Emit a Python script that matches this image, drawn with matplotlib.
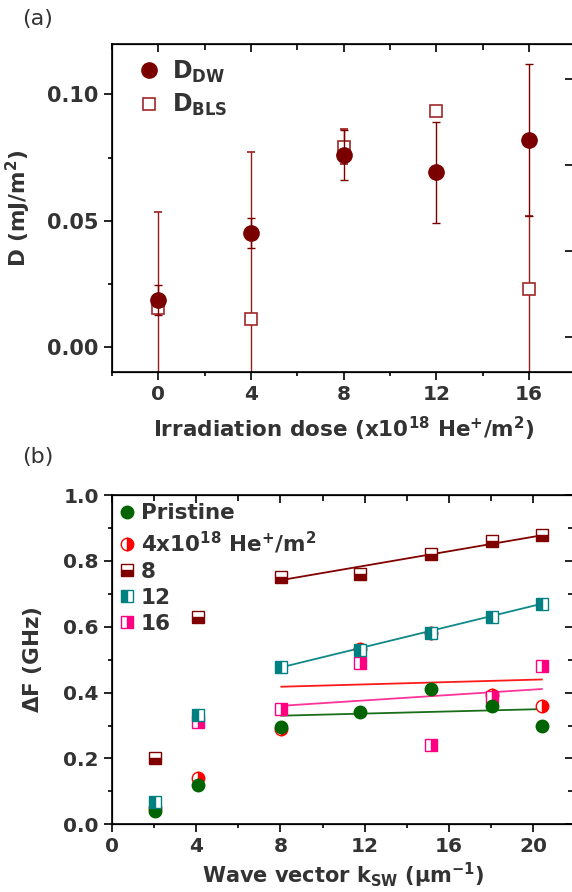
""" Two-panel figure: DMI vs irradiation dose, and frequency shift vs wave vector. """

import matplotlib.pyplot as plt
from matplotlib.lines import Line2D
from matplotlib.ticker import MultipleLocator, FormatStrFormatter

# ---- data, panel (a) ----
dose = [0, 4, 8, 12, 16]
d_dw = [0.0184, 0.0451, 0.0759, 0.0692, 0.0819]
d_dw_err = [0.006, 0.006, 0.010, 0.020, 0.030]
d_bls = [0.0155, 0.0111, 0.0793, 0.0933, 0.0229]
d_bls_err_low = [0.040, 0.030, 0.007, 0.001, 0.040]
d_bls_err_high = [0.038, 0.066, 0.007, 0.001, 0.029]

# ---- data, panel (b) ----
k_sw = [2.05, 4.07, 8.04, 11.78, 15.15, 18.04, 20.41]
df_pristine = [0.040, 0.120, 0.295, 0.340, 0.410, 0.360, 0.300]
df_4 = [0.049, 0.140, 0.289, 0.534, 0.580, 0.393, 0.360]
df_8 = [0.200, 0.630, 0.750, 0.760, 0.821, 0.861, 0.880]
df_12 = [0.069, 0.332, 0.479, 0.529, 0.580, 0.630, 0.670]
k_16 = [4.07, 8.04, 11.78, 15.15, 18.04, 20.41]
df_16 = [0.310, 0.350, 0.491, 0.240, 0.386, 0.481]

# linear fits drawn in the figure (end points)
fit_k = [8.04, 20.41]
fit_pristine = [0.330, 0.350]
fit_4 = [0.418, 0.440]
fit_8 = [0.742, 0.878]
fit_12 = [0.477, 0.670]
fit_16 = [0.360, 0.411]

plt.rcParams['font.family'] = ['DejaVu Sans']
plt.rcParams['mathtext.default'] = 'bf'
plt.rcParams['text.color'] = '#333333'
plt.rcParams['axes.labelcolor'] = '#333333'
plt.rcParams['xtick.labelcolor'] = '#333333'
plt.rcParams['ytick.labelcolor'] = '#333333'

fig = plt.figure(figsize=(5.72, 8.92), dpi=100)


def top_ticks(a):
    """Unlabeled tick marks on the top edge, pointing into the plot."""
    t = a.twiny()
    t.set_xlim(a.get_xlim())
    t.xaxis.set_major_locator(MultipleLocator(4))
    t.xaxis.set_minor_locator(MultipleLocator(2))
    t.tick_params(axis='x', which='both', direction='in', width=1.2, labeltop=False)
    t.tick_params(axis='x', which='major', length=6)
    t.tick_params(axis='x', which='minor', length=4)
    return t


# ---------------- panel (a) ----------------
ax = fig.add_axes([0.1958, 0.583, 0.81, 0.3677])
dark = '#7a0000'

ax.errorbar(dose, d_bls, yerr=[d_bls_err_low, d_bls_err_high], fmt='s', ms=9,
            mfc='white', mec='#a02828', mew=1.2, ecolor='#9a1a1a', elinewidth=1.0,
            capsize=3, capthick=1.0, zorder=2)
ax.errorbar(dose, d_dw, yerr=d_dw_err, fmt='o', ms=11, color=dark,
            ecolor=dark, elinewidth=1.0, capsize=3, capthick=1.0, zorder=3)

ax.set_xlim(-2, 18)
ax.set_ylim(-0.01, 0.12)
ax.xaxis.set_major_locator(MultipleLocator(4))
ax.xaxis.set_minor_locator(MultipleLocator(2))
ax.yaxis.set_major_locator(MultipleLocator(0.05))
ax.yaxis.set_minor_locator(MultipleLocator(0.025))
ax.yaxis.set_major_formatter(FormatStrFormatter('%.2f'))
ax.tick_params(axis='both', which='both', labelsize=14.5, width=1.2, direction='out')
ax.tick_params(axis='y', labelsize=15)
ax.tick_params(axis='both', which='major', length=6)
ax.tick_params(axis='both', which='minor', length=3)
for t in ax.get_xticklabels() + ax.get_yticklabels():
    t.set_fontweight('bold')
ax.set_xlabel(r'Irradiation dose (x10$^{18}$ He$^{+}$/m$^{2}$)', fontsize=15.5,
              fontweight='bold', labelpad=8)
ax.set_ylabel(r'D (mJ/m$^{2}$)', fontsize=15.5, fontweight='bold', labelpad=10)
for s in ax.spines.values():
    s.set_linewidth(1.2)

top_ticks(ax)

# unlabeled right-hand axis
ax2 = ax.twinx()
ax2.set_ylim(-0.41, 3.41)
ax2.set_yticks([0, 1, 2, 3])
ax2.tick_params(axis='y', direction='in', length=7, width=1.2, labelright=False)

leg_a = [Line2D([], [], ls='none', marker='o', ms=11, color=dark),
         Line2D([], [], ls='none', marker='s', ms=9, mfc='white', mec='#a02828', mew=1.2)]
ax.legend(leg_a, [r'D$_{DW}$', r'D$_{BLS}$'], loc='upper left',
          bbox_to_anchor=(0.008, 1.02), frameon=False,
          handlelength=1.0, handletextpad=0.5, labelspacing=0.3,
          prop={'weight': 'bold', 'size': 17})

fig.text(0.038, 0.979, '(a)', fontsize=16, color='#333333', va='center')

# ---------------- panel (b) ----------------
bx = fig.add_axes([0.1958, 0.0759, 0.81, 0.369])

bx.plot(fit_k, fit_8, color='#800000', lw=1.3)
bx.plot(fit_k, fit_12, color='#108888', lw=1.3)
bx.plot(fit_k, fit_4, color='#ff1a1a', lw=1.3)
bx.plot(fit_k, fit_16, color='#ff3399', lw=1.3)
bx.plot(fit_k, fit_pristine, color='#1a6e1a', lw=1.3)

bx.plot(k_sw, df_4, ls='none', marker='o', ms=9, color='#ff0000',
        fillstyle='right', mfc='#ff0000', mfcalt='white', mec='#ff0000', mew=1.0,
        label=r'4x10$^{18}$ He$^{+}$/m$^{2}$', zorder=3)
bx.plot(k_sw, df_pristine, ls='none', marker='o', ms=9, color='#006400',
        label='Pristine', zorder=4)
bx.plot(k_sw, df_8, ls='none', marker='s', ms=8, color='#800000',
        fillstyle='bottom', mfc='#800000', mfcalt='white', mec='#800000', mew=1.0,
        label='8', zorder=3)
bx.plot(k_sw, df_12, ls='none', marker='s', ms=8, color='#008080',
        fillstyle='left', mfc='#008080', mfcalt='white', mec='#008080', mew=1.0,
        label='12', zorder=4)
bx.plot(k_16, df_16, ls='none', marker='s', ms=8, color='#ff0080',
        fillstyle='right', mfc='#ff0080', mfcalt='white', mec='#ff0080', mew=1.0,
        label='16', zorder=3)

bx.set_xlim(0, 22)
bx.set_ylim(0, 1.0)
bx.xaxis.set_major_locator(MultipleLocator(4))
bx.xaxis.set_minor_locator(MultipleLocator(2))
bx.yaxis.set_major_locator(MultipleLocator(0.2))
bx.yaxis.set_minor_locator(MultipleLocator(0.1))
bx.yaxis.set_major_formatter(FormatStrFormatter('%.1f'))
bx.tick_params(axis='both', which='both', labelsize=14.5, width=1.2, direction='out')
bx.tick_params(axis='both', which='major', length=6)
bx.tick_params(axis='both', which='minor', length=3)
for t in bx.get_xticklabels() + bx.get_yticklabels():
    t.set_fontweight('bold')
bx.set_xlabel(r'Wave vector k$_{SW}$ ($\mathbf{\mu}$m$^{-1}$)', fontsize=15,
              fontweight='bold', labelpad=3)
bx.set_ylabel(r'$\Delta$F (GHz)', fontsize=15.5, fontweight='bold', labelpad=14)
for s in bx.spines.values():
    s.set_linewidth(1.2)

top_ticks(bx)
# unlabeled ticks on the right edge
bx2 = bx.twinx()
bx2.set_ylim(bx.get_ylim())
bx2.yaxis.set_major_locator(MultipleLocator(0.2))
bx2.yaxis.set_minor_locator(MultipleLocator(0.1))
bx2.tick_params(axis='y', which='both', direction='in', width=1.2, labelright=False)
bx2.tick_params(axis='y', which='major', length=7)
bx2.tick_params(axis='y', which='minor', length=5)

handles, labels = bx.get_legend_handles_labels()
order = [1, 0, 2, 3, 4]
bx.legend([handles[i] for i in order], [labels[i] for i in order],
          loc='upper left', bbox_to_anchor=(-0.024, 1.027), frameon=False,
          handlelength=0.8, handletextpad=0.25, labelspacing=0.28,
          borderpad=0.3, prop={'weight': 'bold', 'size': 15.5})

fig.text(0.038, 0.488, '(b)', fontsize=16, color='#333333', va='center')

fig.savefig('out.png', dpi=100)
